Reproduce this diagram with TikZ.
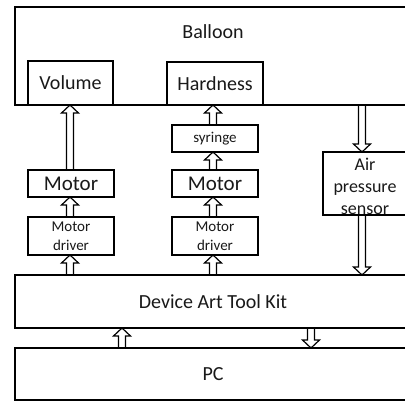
\documentclass[tikz,border=0pt]{standalone}
\usepackage{fontspec}
\setmainfont{Carlito}
\usetikzlibrary{calc}
\tikzset{
  box/.style={draw=black, line width=1.6pt, inner sep=0pt, outer sep=0pt, anchor=north west, align=center, text=black!90},
  bigtxt/.style={font=\fontsize{20}{24}\selectfont},
  smalltxt/.style={font=\fontsize{15}{19}\selectfont},
  midtxt/.style={font=\fontsize{18}{22}\selectfont},
  arrowline/.style={draw=black, line width=1.2pt, line join=miter},
}
\newcommand{\uparr}[2]{%
  \draw[arrowline] let \p1=(#1), \p2=(#2) in
    (\x1-3.5pt,\y1) -- (\x1-3.5pt,\y2-8pt) -- (\x1-8.5pt,\y2-8pt) -- (\x1,\y2)
    -- (\x1+8.5pt,\y2-8pt) -- (\x1+3.5pt,\y2-8pt) -- (\x1+3.5pt,\y1);}
\newcommand{\downarr}[2]{%
  \draw[arrowline] let \p1=(#1), \p2=(#2) in
    (\x1-3.5pt,\y1) -- (\x1-3.5pt,\y2+8pt) -- (\x1-8.5pt,\y2+8pt) -- (\x1,\y2)
    -- (\x1+8.5pt,\y2+8pt) -- (\x1+3.5pt,\y2+8pt) -- (\x1+3.5pt,\y1);}
\begin{document}
\begin{tikzpicture}[x=1pt,y=1pt]
\useasboundingbox (0,0) rectangle (405,-402);
\clip (0,0) rectangle (405,-402);
\fill[white] (0,0) rectangle (405,-402);
% big boxes
\node[box, minimum width=396pt, minimum height=98pt] (balloon) at (15,-7) {};
\node[bigtxt, text=black!90] (balloontxt) at (213,-32) {Balloon};
\node[box, bigtxt, minimum width=85pt, minimum height=44pt] (volume) at (28,-61) {Volume};
\node[box, bigtxt, minimum width=96pt, minimum height=43pt] (hardness) at (167,-62) {Hardness};
\node[box, smalltxt, minimum width=86pt, minimum height=27pt] (syringe) at (172,-125) {syringe};
\node[box, font=\fontsize{21}{24}\selectfont, minimum width=86pt, minimum height=27pt] (motL) at (28,-170) {Motor};
\node[box, font=\fontsize{21}{24}\selectfont, minimum width=86pt, minimum height=27pt] (motM) at (172,-170) {Motor};
\node[box, smalltxt, minimum width=86pt, minimum height=38pt] (drvL) at (28,-217) {Motor\\driver};
\node[box, smalltxt, minimum width=86pt, minimum height=38pt] (drvM) at (172,-217) {Motor\\driver};
\node[box, minimum width=84pt, minimum height=63pt] (sensor) at (323,-152) {};
\node[midtxt, align=center, text=black!90, inner sep=0pt] (sensortxt) at (365,-186) {Air\\pressure\\sensor};
\node[box, bigtxt, minimum width=396pt, minimum height=53pt] (datk) at (15,-275) {Device Art Tool Kit};
\node[box, bigtxt, minimum width=396pt, minimum height=52pt] (pc) at (15,-348) {PC};
% arrow columns
\coordinate (cL) at (70,0);
\coordinate (cM) at (213,0);
\coordinate (cR) at (362,0);
\coordinate (cUp) at (122,0);
\coordinate (cDn) at (311,0);
% left column
\uparr{datk.north -| cL}{drvL.south -| cL}
\uparr{drvL.north -| cL}{motL.south -| cL}
\uparr{motL.north -| cL}{volume.south -| cL}
% middle column
\uparr{datk.north -| cM}{drvM.south -| cM}
\uparr{drvM.north -| cM}{motM.south -| cM}
\uparr{motM.north -| cM}{syringe.south -| cM}
\uparr{syringe.north -| cM}{hardness.south -| cM}
% right column
\downarr{balloon.south -| cR}{sensor.north -| cR}
\downarr{sensor.south -| cR}{datk.north -| cR}
% DATK - PC
\uparr{pc.north -| cUp}{datk.south -| cUp}
\downarr{datk.south -| cDn}{pc.north -| cDn}
\end{tikzpicture}
\end{document}
